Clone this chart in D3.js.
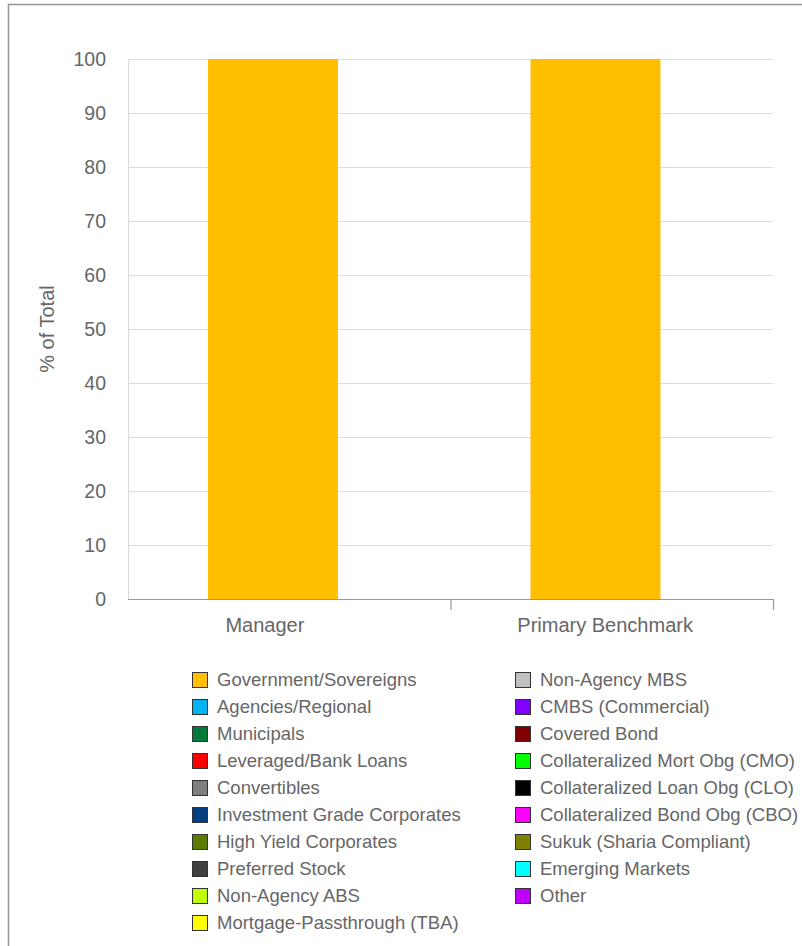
<!DOCTYPE html>
<html>
<head>
<meta charset="utf-8">
<script src="https://cdn.jsdelivr.net/npm/d3@7"></script>
<style>
  html, body { margin: 0; padding: 0; background: #fff; }
  svg { display: block; font-family: "Liberation Sans", Arial, sans-serif; }
</style>
</head>
<body>
<svg id="chart" width="802" height="946"></svg>
<script>
// ---- data ----
const categories = ["Manager", "Primary Benchmark"];
const seriesNames = [
  "Government/Sovereigns", "Agencies/Regional", "Municipals", "Leveraged/Bank Loans",
  "Convertibles", "Investment Grade Corporates", "High Yield Corporates", "Preferred Stock",
  "Non-Agency ABS", "Mortgage-Passthrough (TBA)", "Non-Agency MBS", "CMBS (Commercial)",
  "Covered Bond", "Collateralized Mort Obg (CMO)", "Collateralized Loan Obg (CLO)",
  "Collateralized Bond Obg (CBO)", "Sukuk (Sharia Compliant)", "Emerging Markets", "Other"
];
const seriesColors = [
  "#FFBF00", "#00B4F0", "#007A3D", "#FF0000",
  "#808080", "#003F7F", "#5A7A00", "#404040",
  "#BFFF00", "#FFFF00", "#C0C0C0", "#8000FF",
  "#7F0000", "#00FF00", "#000000",
  "#FF00FF", "#808000", "#00FFFF", "#BF00FF"
];
// values per series: [Manager, Primary Benchmark]
const managerValues   = [100, 0, 0, 0, 0, 0, 0, 0, 0, 0, 0, 0, 0, 0, 0, 0, 0, 0, 0];
const benchmarkValues = [100, 0, 0, 0, 0, 0, 0, 0, 0, 0, 0, 0, 0, 0, 0, 0, 0, 0, 0];
const yTicks = [0, 10, 20, 30, 40, 50, 60, 70, 80, 90, 100];
const yTitle = "% of Total";

// ---- build table ----
const table = categories.map((c, i) => {
  const row = { category: c };
  const vals = i === 0 ? managerValues : benchmarkValues;
  seriesNames.forEach((s, j) => row[s] = vals[j]);
  return row;
});

const svg = d3.select("#chart");
const textColor = "#666";

// outer border
svg.append("rect")
  .attr("x", 8.5).attr("y", 4.5)
  .attr("width", 900).attr("height", 1000)
  .attr("fill", "none").attr("stroke", "#9a9a9a").attr("stroke-width", 1.6);

const plot = { left: 128, right: 773, top: 59, bottom: 599 };

const x = d3.scaleBand().domain(categories).range([plot.left, plot.right]).padding(0);
const y = d3.scaleLinear().domain([0, 100]).range([plot.bottom, plot.top]);

// gridlines
svg.append("g").selectAll("line")
  .data(yTicks.filter(t => t > 0))
  .join("line")
  .attr("x1", plot.left).attr("x2", plot.right)
  .attr("y1", d => y(d) + 0.5).attr("y2", d => y(d) + 0.5)
  .attr("stroke", "#dcdcdc").attr("stroke-width", 1.2);

// left axis line
svg.append("line")
  .attr("x1", plot.left + 0.5).attr("x2", plot.left + 0.5)
  .attr("y1", plot.top).attr("y2", plot.bottom)
  .attr("stroke", "#dcdcdc").attr("stroke-width", 1.2);

// y tick labels
svg.append("g").selectAll("text")
  .data(yTicks)
  .join("text")
  .attr("x", 106).attr("y", d => y(d))
  .attr("dy", "0.35em")
  .attr("text-anchor", "end")
  .attr("font-size", 19.5)
  .attr("fill", textColor)
  .text(d => d);

// y title
svg.append("text")
  .attr("transform", `translate(47, ${(plot.top + plot.bottom) / 2}) rotate(-90)`)
  .attr("text-anchor", "middle")
  .attr("dy", "0.35em")
  .attr("font-size", 20)
  .attr("fill", textColor)
  .text(yTitle);

// stacked bars
const stack = d3.stack().keys(seriesNames);
const stacked = stack(table);
const bw = x.bandwidth();
const barOffset = bw * 0.248, barWidth = bw * 0.403;

svg.append("g").selectAll("g")
  .data(stacked)
  .join("g")
  .attr("fill", (d, i) => seriesColors[i])
  .selectAll("rect")
  .data(d => d)
  .join("rect")
  .attr("x", d => x(d.data.category) + barOffset)
  .attr("width", barWidth)
  .attr("y", d => y(d[1]))
  .attr("height", d => y(d[0]) - y(d[1]));

// x axis baseline and ticks
svg.append("line")
  .attr("x1", plot.left).attr("x2", plot.right + 0.5)
  .attr("y1", plot.bottom + 0.5).attr("y2", plot.bottom + 0.5)
  .attr("stroke", "#999").attr("stroke-width", 1.2);

svg.append("g").selectAll("line")
  .data(categories)
  .join("line")
  .attr("x1", d => x(d) + bw + 0.5).attr("x2", d => x(d) + bw + 0.5)
  .attr("y1", plot.bottom).attr("y2", plot.bottom + 11)
  .attr("stroke", "#999").attr("stroke-width", 1.2);

// category labels
const labelShift = [-0.025, 0.03];
svg.append("g").selectAll("text")
  .data(categories)
  .join("text")
  .attr("x", (d, i) => x(d) + barOffset + barWidth / 2 + bw * labelShift[i])
  .attr("y", 632)
  .attr("text-anchor", "middle")
  .attr("font-size", 20)
  .attr("fill", textColor)
  .text(d => d);

// legend
const legendRows = 10;
const legend = svg.append("g");
const items = legend.selectAll("g")
  .data(seriesNames)
  .join("g")
  .attr("transform", (d, i) => {
    const col = Math.floor(i / legendRows);
    const row = i % legendRows;
    return `translate(${col === 0 ? 192.5 : 515.5}, ${680 + row * 27})`;
  });
items.append("rect")
  .attr("x", 0).attr("y", -7.5)
  .attr("width", 15).attr("height", 15)
  .attr("fill", (d, i) => seriesColors[i])
  .attr("stroke", "#333").attr("stroke-width", 1);
items.append("text")
  .attr("x", 24.5).attr("y", 0)
  .attr("dy", "0.35em")
  .attr("font-size", 18.5)
  .attr("fill", textColor)
  .text(d => d);
</script>
</body>
</html>
